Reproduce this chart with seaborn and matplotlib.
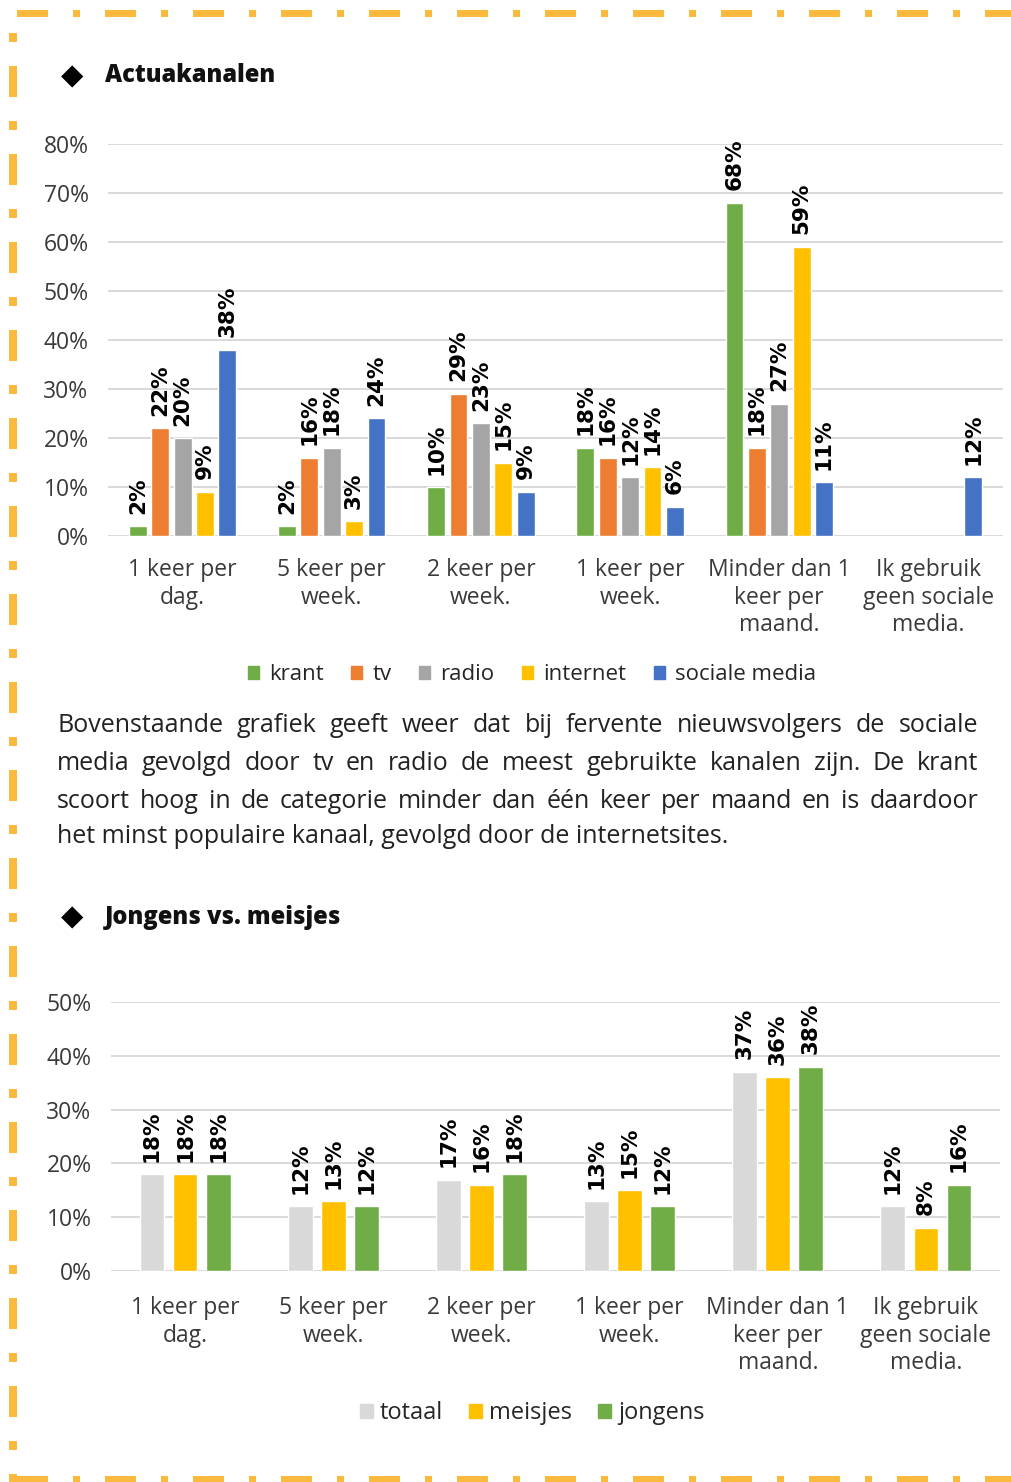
import matplotlib
matplotlib.use("Agg")
import matplotlib.pyplot as plt
from matplotlib.patches import Patch, Rectangle
import seaborn as sns
import pandas as pd
import numpy as np

# ---- data ----
categories = ["1 keer per\ndag.", "5 keer per\nweek.", "2 keer per\nweek.",
              "1 keer per\nweek.", "Minder dan 1\nkeer per\nmaand.",
              "Ik gebruik\ngeen sociale\nmedia."]

kanalen = ["krant", "tv", "radio", "internet", "sociale media"]
krant = [2, 2, 10, 18, 68, np.nan]
tv = [22, 16, 29, 16, 18, np.nan]
radio = [20, 18, 23, 12, 27, np.nan]
internet = [9, 3, 15, 14, 59, np.nan]
sociale_media = [38, 24, 9, 6, 11, 12]

groepen = ["totaal", "meisjes", "jongens"]
totaal = [18, 12, 17, 13, 37, 12]
meisjes = [18, 13, 16, 15, 36, 8]
jongens = [18, 12, 18, 12, 38, 16]

yticks1 = [0, 10, 20, 30, 40, 50, 60, 70, 80]
yticks2 = [0, 10, 20, 30, 40, 50]

kleuren1 = {"krant": "#70AD47", "tv": "#ED7D31", "radio": "#A5A5A5",
            "internet": "#FFC000", "sociale media": "#4472C4"}
kleuren2 = {"totaal": "#D9D9D9", "meisjes": "#FFC000", "jongens": "#70AD47"}

tekst = ["Bovenstaande grafiek geeft weer dat bij fervente nieuwsvolgers de sociale",
         "media gevolgd door tv en radio de meest gebruikte kanalen zijn. De krant",
         "scoort hoog in de categorie minder dan één keer per maand en is daardoor",
         "het minst populaire kanaal, gevolgd door de internetsites."]

# long-form tables for seaborn
df1 = pd.DataFrame({"cat": categories * 5,
                    "serie": np.repeat(kanalen, 6),
                    "waarde": krant + tv + radio + internet + sociale_media}).dropna()
df2 = pd.DataFrame({"cat": categories * 3,
                    "serie": np.repeat(groepen, 6),
                    "waarde": totaal + meisjes + jongens})

sns.set_theme(style="white")
plt.rcParams["font.family"] = ["Open Sans", "DejaVu Sans"]

W, H = 1011, 1482
fig = plt.figure(figsize=(W / 100, H / 100), dpi=100, facecolor="white")


def box(x0, y0, x1, y1):
    # pixel box (top-left origin) -> figure fraction rect
    return [x0 / W, 1 - y1 / H, (x1 - x0) / W, (y1 - y0) / H]


ax1 = fig.add_axes(box(108, 144, 1003, 536))
ax2 = fig.add_axes(box(111, 1002, 1000, 1271))

sns.barplot(data=df1, x="cat", y="waarde", hue="serie", order=categories,
            hue_order=kanalen, palette=kleuren1, width=0.75, gap=0.2,
            saturation=1, errorbar=None, legend=False, ax=ax1)
sns.barplot(data=df2, x="cat", y="waarde", hue="serie", order=categories,
            hue_order=groepen, palette=kleuren2, width=0.67, gap=0.25,
            saturation=1, errorbar=None, legend=False, ax=ax2)

for ax, ticks, xpad in [(ax1, yticks1, 16), (ax2, yticks2, 18)]:
    ax.set_xlim(-0.5, 5.5)
    ax.set_ylim(ticks[0], ticks[-1])
    ax.set_yticks(ticks)
    ax.set_yticklabels([f"{t}%" for t in ticks])
    ax.set_xlabel("")
    ax.set_ylabel("")
    ax.yaxis.grid(True, color="#D9D9D9", linewidth=1.4)
    ax.xaxis.grid(False)
    ax.set_axisbelow(True)
    for s in ax.spines.values():
        s.set_visible(False)
    ax.tick_params(axis="y", length=0, pad=14, labelsize=16.5, labelcolor="#3A3A3A")
    ax.tick_params(axis="x", length=0, pad=xpad, labelsize=16.5, labelcolor="#3A3A3A")
    for lab in ax.get_xticklabels():
        lab.set_linespacing(1.2)
    for c in ax.containers:
        ax.bar_label(c, fmt="{:.0f}%", rotation=90, padding=9, fontsize=15.5,
                     fontweight="bold", family="DejaVu Sans", color="black")

# legends
fig.legend([Patch(color=kleuren1[k]) for k in kanalen], kanalen,
           loc="center", bbox_to_anchor=(532 / W, 1 - 675 / H), ncol=5,
           frameon=False, fontsize=16, handlelength=0.5, handleheight=0.5,
           handletextpad=0.45, columnspacing=1.25, labelcolor="#262626")
fig.legend([Patch(color=kleuren2[k]) for k in groepen], groepen,
           loc="center", bbox_to_anchor=(532 / W, 1 - 1413 / H), ncol=3,
           frameon=False, handlelength=0.55, handleheight=0.55,
           handletextpad=0.3, columnspacing=1.1, labelcolor="#262626",
           prop={"size": 17})

# section titles
for y, titel in [(76, "Actuakanalen"), (917, "Jongens vs. meisjes")]:
    fig.text(72 / W, 1 - y / H, "◆", family="DejaVu Sans", fontsize=21,
             ha="center", va="center", color="black")
    fig.text(105 / W, 1 - y / H, titel, fontsize=17, fontweight="heavy",
             ha="left", va="center", color="#111111")

# paragraph, justified except the last line
renderer = fig.canvas.get_renderer()
x_left, x_right = 57, 978
for i, (regel, y) in enumerate(zip(tekst, [725, 764, 801, 837])):
    if i == len(tekst) - 1:
        fig.text(x_left / W, 1 - y / H, regel, fontsize=18, ha="left",
                 va="center", color="#222222")
        continue
    woorden = regel.split()
    ts = [fig.text(0, 1 - y / H, w, fontsize=18, ha="left", va="center",
                   color="#222222") for w in woorden]
    breedtes = [t.get_window_extent(renderer).width for t in ts]
    tussen = (x_right - x_left - sum(breedtes)) / (len(ts) - 1)
    x = x_left
    for t, b in zip(ts, breedtes):
        t.set_x(x / W)
        x += b + tussen

# dashed page border
geel = "#FBBA3E"


def rect(x, y, w, h):
    fig.add_artist(Rectangle((x / W, 1 - (y + h) / H), w / W, h / H,
                             transform=fig.transFigure, color=geel, lw=0))


x = 17
while x < W:
    rect(x, 10, 31, 7)
    rect(x + 56, 10, 7, 7)
    rect(x, 1476, 31, 7)
    rect(x + 56, 1476, 7, 7)
    x += 88
y = 33
while y < 1470:
    rect(9, y, 8, 9)
    rect(9, y + 33, 8, 31)
    y += 88

fig.savefig("out.png", dpi=100, facecolor="white")
